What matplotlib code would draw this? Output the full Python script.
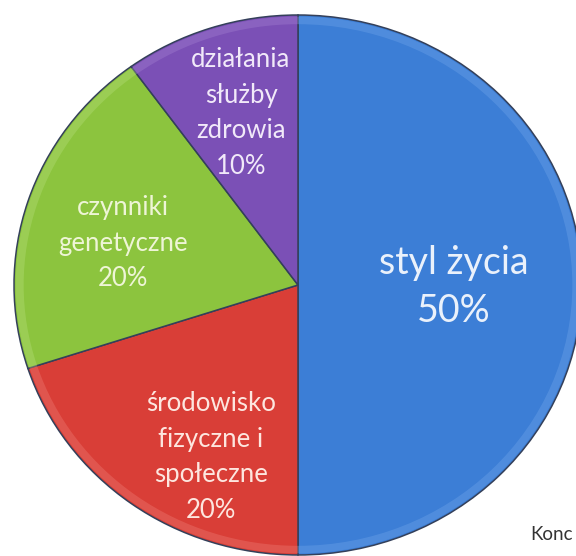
import matplotlib
matplotlib.use("Agg")
import matplotlib.pyplot as plt

labels = ["styl życia", "środowisko\nfizyczne i\nspołeczne", "czynniki\ngenetyczne", "działania\nsłużby\nzdrowia"]
values = [50, 20, 20, 10]
colors = ["#3c7ed6", "#d93e37", "#8cc43e", "#7b50b6"]
rim_colors = ["#6ea3e8", "#ec7a72", "#b2dc76", "#a27fd0"]
text_colors = ["#eaf1fb", "#fde6df", "#eef5d6", "#f1e9f9"]

W, H = 576, 556
fig = plt.figure(figsize=(W / 100, H / 100), dpi=100)
ax = fig.add_axes([0, 0, 1, 1])

cx, cy, rx, ry = 298, 285, 284, 270

wedges, _ = ax.pie(values, colors=colors, startangle=90, counterclock=False,
                   radius=1.0,
                   wedgeprops=dict(edgecolor="#34405a", linewidth=1.1))
# subtle light rim (bevel effect)
ax.pie(values, colors=rim_colors, startangle=90,
       counterclock=False, radius=0.994,
       wedgeprops=dict(width=0.028, edgecolor="none", alpha=0.4))

ax.set_aspect("auto")
ax.set_xlim(-cx / rx, (W - cx) / rx)
ax.set_ylim((cy - H) / ry, cy / ry)
ax.axis("off")

def px(x, y):
    return (x - cx) / rx, (cy - y) / ry

font = ["Lato", "DejaVu Sans"]
label_pos = [(454, 287), (211, 457), (123, 243), (241, 113)]
sizes = [27, 18.5, 18.5, 18.5]
spacings = [1.42, 1.52, 1.52, 1.52]
for lab, v, (x, y), s, ls, tc in zip(labels, values, label_pos, sizes, spacings, text_colors):
    ax.text(*px(x, y), f"{lab}\n{v}%", ha="center", va="center", fontsize=s,
            color=tc, family=font, linespacing=ls)

ax.text(*px(530, 540), "Konc", ha="left", va="baseline", fontsize=13.5,
        color="#333333", family=font)

fig.savefig("out.png", dpi=100, facecolor="white")
